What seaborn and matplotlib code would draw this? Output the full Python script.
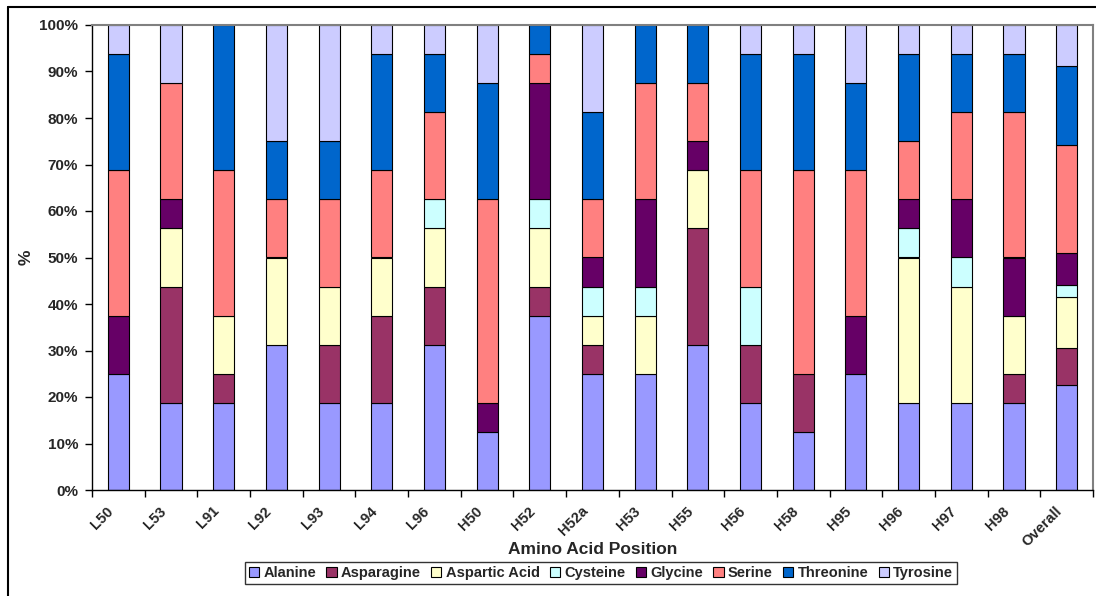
import numpy as np
import pandas as pd
import matplotlib
matplotlib.use("Agg")
import matplotlib.pyplot as plt
import matplotlib.transforms as mtransforms
import seaborn as sns
from matplotlib.lines import Line2D
from matplotlib.patches import Patch
from matplotlib.ticker import PercentFormatter, FixedLocator

positions = ["L50", "L53", "L91", "L92", "L93", "L94", "L96", "H50", "H52", "H52a",
             "H53", "H55", "H56", "H58", "H95", "H96", "H97", "H98", "Overall"]

alanine       = [25, 18.75, 18.75, 31.25, 18.75, 18.75, 31.25, 12.5, 37.5, 25, 25, 31.25, 18.75, 12.5, 25, 18.75, 18.75, 18.75, 22.6]
asparagine    = [0, 25, 6.25, 0, 12.5, 18.75, 12.5, 0, 6.25, 6.25, 0, 25, 12.5, 12.5, 0, 0, 0, 6.25, 7.9]
aspartic_acid = [0, 12.5, 12.5, 18.75, 12.5, 12.5, 12.5, 0, 12.5, 6.25, 12.5, 12.5, 0, 0, 0, 31.25, 25, 12.5, 10.9]
cysteine      = [0, 0, 0, 0, 0, 0, 6.25, 0, 6.25, 6.25, 6.25, 0, 12.5, 0, 0, 6.25, 6.25, 0, 2.6]
glycine       = [12.5, 6.25, 0, 0, 0, 0, 0, 6.25, 25, 6.25, 18.75, 6.25, 0, 0, 12.5, 6.25, 12.5, 12.5, 7.0]
serine        = [31.25, 25, 31.25, 12.5, 18.75, 18.75, 18.75, 43.75, 6.25, 12.5, 25, 12.5, 25, 43.75, 31.25, 12.5, 18.75, 31.25, 23.2]
threonine     = [25, 0, 31.25, 12.5, 12.5, 25, 12.5, 25, 6.25, 18.75, 12.5, 12.5, 25, 25, 18.75, 18.75, 12.5, 12.5, 16.9]
tyrosine      = [6.25, 12.5, 0, 25, 25, 6.25, 6.25, 12.5, 0, 18.75, 0, 0, 6.25, 6.25, 12.5, 6.25, 6.25, 6.25, 8.9]

series_names = ["Alanine", "Asparagine", "Aspartic Acid", "Cysteine", "Glycine", "Serine", "Threonine", "Tyrosine"]
series_values = [alanine, asparagine, aspartic_acid, cysteine, glycine, serine, threonine, tyrosine]
colors = ["#9999FF", "#993366", "#FFFFCC", "#CCFFFF", "#660066", "#FF8080", "#0066CC", "#CCCCFF"]

df = pd.DataFrame({"position": positions})
for n, v in zip(series_names, series_values):
    df[n] = v

sns.set_style("white")
plt.rcParams["font.family"] = ["Liberation Sans", "DejaVu Sans"]
plt.rcParams["font.weight"] = "bold"

fig = plt.figure(figsize=(10.96, 5.96), dpi=100)
ax = fig.add_axes([92 / 1096, 1 - 490 / 596, (1093 - 92) / 1096, (490 - 25) / 596])

bottom = np.zeros(len(positions))
for n, c in zip(series_names, colors):
    sns.barplot(data=df, x="position", y=n, order=positions, bottom=bottom.copy(),
                color=c, saturation=1, width=0.4, edgecolor="black", linewidth=0.8,
                errorbar=None, ax=ax)
    bottom += df[n].values

# hide outlines of empty (zero-height) segments
for p in ax.patches:
    if p.get_height() == 0:
        p.set_linewidth(0)

ax.set_ylim(0, 100)
ax.set_xlim(-0.5, len(positions) - 0.5)
ax.yaxis.set_major_locator(FixedLocator(np.arange(0, 101, 10)))
ax.yaxis.set_major_formatter(PercentFormatter(decimals=0))
ax.tick_params(axis="y", which="major", direction="out", length=5, width=1, color="black",
               labelsize=11, pad=5, left=True)
for t in ax.get_yticklabels():
    t.set_fontweight("bold")

ax.set_xticks(np.arange(len(positions)))
ax.set_xticklabels(positions, rotation=45, ha="right", va="top", rotation_mode="anchor",
                   fontsize=10.5, fontweight="bold")
ax.tick_params(axis="x", which="major", length=0, pad=10)
shift = mtransforms.ScaledTranslation(-12 / 100, 0, fig.dpi_scale_trans)
for t in ax.get_xticklabels():
    t.set_transform(t.get_transform() + shift)
ax.set_xticks(np.arange(len(positions) + 1) - 0.5, minor=True)
ax.tick_params(axis="x", which="minor", direction="out", length=5, width=1, color="black", bottom=True)

ax.set_xlabel("Amino Acid Position", fontsize=12.5, fontweight="bold", va="center")
ax.xaxis.set_label_coords(0.5, -(549 - 490) / 465)
ax.set_ylabel("%", fontsize=12.5, fontweight="bold", va="center")
ax.yaxis.set_label_coords(-(92 - 26) / 1001, 0.5)

for s in ["left", "bottom"]:
    ax.spines[s].set_color("black")
    ax.spines[s].set_linewidth(1)
for s in ["top", "right"]:
    ax.spines[s].set_color("#808080")
    ax.spines[s].set_linewidth(1.5)

handles = [Patch(facecolor=c, edgecolor="black", linewidth=0.8) for c in colors]
leg = fig.legend(handles, series_names, ncol=8, loc="center",
                 bbox_to_anchor=(601 / 1096, 1 - 573 / 596),
                 frameon=True, fancybox=False, edgecolor="black",
                 handlelength=0.7, handleheight=0.7, handletextpad=0.3,
                 columnspacing=0.7, borderpad=0.25,
                 prop={"size": 10.5, "weight": "bold"})
leg.get_frame().set_linewidth(1)

fig.add_artist(Line2D([8 / 1096, 1], [1 - 7 / 596, 1 - 7 / 596], transform=fig.transFigure,
                      color="black", linewidth=1.5))
fig.add_artist(Line2D([8 / 1096, 8 / 1096], [0, 1 - 7 / 596], transform=fig.transFigure,
                      color="black", linewidth=1.5))

fig.savefig("out.png", dpi=100)
